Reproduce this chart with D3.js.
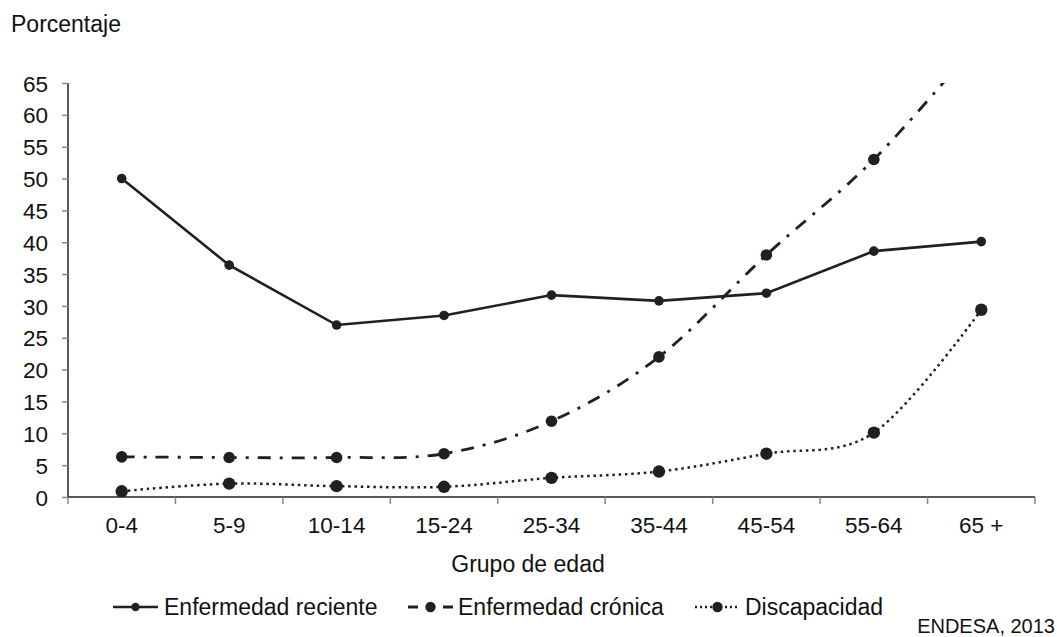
<!DOCTYPE html>
<html>
<head>
<meta charset="utf-8">
<script src="https://cdn.jsdelivr.net/npm/d3@7"></script>
<style>
  body { margin: 0; background: #fff; }
  svg { display: block; font-family: "Liberation Sans", Arial, sans-serif; }
</style>
</head>
<body>
<svg id="chart" width="1057" height="637"></svg>
<script>
const categories = ["0-4", "5-9", "10-14", "15-24", "25-34", "35-44", "45-54", "55-64", "65 +"];
const reciente = [50.0, 36.4, 27.0, 28.5, 31.7, 30.8, 32.0, 38.6, 40.1];
const cronica = [6.3, 6.2, 6.2, 6.8, 11.9, 22.0, 38.0, 53.0, 72.0];
const discapacidad = [0.9, 2.1, 1.7, 1.6, 3.0, 4.0, 6.8, 10.1, 29.4];
const yTicks = [0, 5, 10, 15, 20, 25, 30, 35, 40, 45, 50, 55, 60, 65];
const seriesNames = ["Enfermedad reciente", "Enfermedad crónica", "Discapacidad"];

(function () {
const svg = d3.select("#chart");
const pL = 68, pR = 1035, pT = 83, pB = 497;
const FONT = "Liberation Sans, Arial, sans-serif";

const x = d3.scaleBand().domain(categories).range([pL, pR]);
const y = d3.scaleLinear().domain([0, 65]).range([pB, pT]);
const cx = d => x(d) + x.bandwidth() / 2;

svg.append("defs").append("clipPath").attr("id", "clip")
  .append("rect").attr("x", pL).attr("y", pT).attr("width", pR - pL + 20).attr("height", pB - pT);

const yAxis = svg.append("g").attr("transform", `translate(${pL},0)`)
  .call(d3.axisLeft(y).tickValues(yTicks).tickSize(6).tickPadding(14));
yAxis.select(".domain").attr("stroke", "#222").attr("stroke-width", 1.5).attr("d", `M0,${pT}V${pB}`);
yAxis.selectAll(".tick line").attr("stroke", "#888").attr("stroke-width", 1.5);
yAxis.selectAll(".tick text").attr("font-size", 22.5).attr("fill", "#111")
  .attr("font-family", FONT).attr("dy", "0.36em");

const xAxis = svg.append("g").attr("transform", `translate(0,${pB})`)
  .call(d3.axisBottom(x).tickSize(0).tickPadding(24));
xAxis.select(".domain").attr("stroke", "#222").attr("stroke-width", 1.5).attr("d", `M${pL},0H${pR}`);
xAxis.selectAll(".tick text").attr("font-size", 22.5).attr("fill", "#111")
  .attr("font-family", FONT).attr("y", 36).attr("dy", null);
const bounds = categories.map(c => x(c)).concat([x(categories[categories.length - 1]) + x.bandwidth()]);
xAxis.selectAll(".btick").data(bounds).enter().append("line")
  .attr("x1", d => d).attr("x2", d => d).attr("y1", 0).attr("y2", 7)
  .attr("stroke", "#888").attr("stroke-width", 1.5);

svg.append("text").attr("x", 11).attr("y", 32).attr("font-size", 23).attr("fill", "#111").text("Porcentaje");
svg.append("text").attr("x", 528).attr("y", 572).attr("text-anchor", "middle")
  .attr("font-size", 23).attr("fill", "#111").text("Grupo de edad");
svg.append("text").attr("x", 1055).attr("y", 633).attr("text-anchor", "end")
  .attr("font-size", 20).attr("fill", "#111").text("ENDESA, 2013");

const styles = [
  { data: reciente, dash: null, width: 2.6, r: 4.8, curve: d3.curveLinear },
  { data: cronica, dash: "13,9,3,9", width: 2.8, r: 5.8, curve: d3.curveCardinal.tension(0) },
  { data: discapacidad, dash: "2.5,3.8", width: 2.5, r: 6.2, curve: d3.curveCardinal.tension(0) }
];

const plot = svg.append("g").attr("clip-path", "url(#clip)");
styles.forEach(s => {
  const line = d3.line().x((d, i) => cx(categories[i])).y(d => y(d)).curve(s.curve);
  plot.append("path").attr("d", line(s.data)).attr("fill", "none")
    .attr("stroke", "#231f20").attr("stroke-width", s.width)
    .attr("stroke-dasharray", s.dash);
  plot.selectAll(null).data(s.data).enter().append("circle")
    .attr("cx", (d, i) => cx(categories[i])).attr("cy", d => y(d)).attr("r", s.r)
    .attr("fill", "#231f20");
});

const legend = [
  { x0: 113, x1: 158, tx: 164, dash: null, r: 4.2 },
  { x0: 408, x1: 453, tx: 458, dash: "10,25,10", r: 5.2 },
  { x0: 695, x1: 740, tx: 745, dash: "2,3", r: 5.2 }
];
const ly = 607;
legend.forEach((l, i) => {
  const s = styles[i];
  const g = svg.append("g");
  g.append("line").attr("x1", l.x0).attr("x2", l.x1).attr("y1", ly).attr("y2", ly)
    .attr("stroke", "#231f20").attr("stroke-width", s.width)
    .attr("stroke-dasharray", l.dash);
  g.append("circle").attr("cx", (l.x0 + l.x1) / 2).attr("cy", ly).attr("r", l.r).attr("fill", "#231f20");
  g.append("text").attr("x", l.tx).attr("y", ly + 8).attr("font-size", 23).attr("fill", "#111").text(seriesNames[i]);
});
})();
</script>
</body>
</html>
